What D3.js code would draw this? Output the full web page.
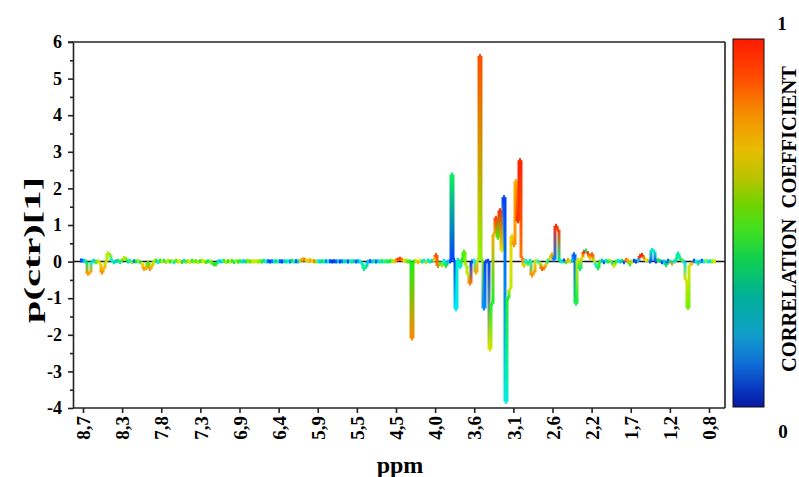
<!DOCTYPE html>
<html><head><meta charset="utf-8">
<script src="https://cdn.jsdelivr.net/npm/d3@7"></script>
<style>
body{margin:0;background:#fff}
svg{display:block}
text{font-family:"Liberation Serif","Times New Roman",serif;font-weight:bold;fill:#000}
</style>
</head><body>
<svg id="c" width="799" height="477"></svg>
<script>
// ---------- data ----------
const ppmTicks = ["8,7","8,3","7,8","7,3","6,9","6,4","5,9","5,5","4,5","4,0","3,6","3,1","2,6","2,2","1,7","1,2","0,8"];
const yTicks = [6,5,4,3,2,1,0,-1,-2,-3,-4];
const yMinorTicks = [5.5,4.5,3.5,2.5,1.5,0.5,-0.5,-1.5,-2.5,-3.5];
const colorbarLabels = ["1","0"];
const yTitle = "p(ctr)[1]";
const xTitle = "ppm";
const cbTitle = "CORRELATION\u00a0\u00a0COEFFICIENT";

// loading p(ctr)[1] per spectral bin (left -> right)
const loadings = [
 0.03,0.03,0.02,0.0,-0.33,-0.3,0.0,0.02,-0.02,0.01,
 -0.05,-0.3,-0.18,0.0,0.23,0.18,0.02,-0.02,0.01,0.02,
 -0.01,0.03,0.1,0.08,0.0,0.02,-0.02,0.01,0.0,0.02,
 -0.02,-0.05,-0.2,-0.18,-0.03,-0.2,-0.12,0.01,0.02,-0.01,
 0.02,0.0,0.02,-0.01,0.02,0.0,0.01,-0.02,0.02,0.0,
 0.01,-0.01,0.02,0.0,0.01,-0.01,0.02,0.0,0.01,-0.01,
 0.01,0.02,0.0,-0.01,0.01,0.0,-0.03,-0.08,-0.07,0.0,
 0.01,0.0,0.02,-0.01,0.01,0.0,0.02,-0.01,0.01,0.0,
 0.01,0.0,0.01,0.0,0.02,0.0,0.01,0.0,0.01,0.0,
 0.01,0.0,0.02,0.0,0.01,0.0,0.01,0.0,0.01,0.0,
 0.01,0.0,0.01,0.0,0.01,0.0,0.02,0.0,0.01,0.0,
 0.02,0.05,0.06,0.04,0.02,0.03,0.02,0.01,0.0,0.01,
 0.0,0.01,0.0,0.01,0.0,0.01,0.0,0.01,0.0,0.01,
 0.0,0.01,0.0,0.01,0.0,0.01,0.0,0.01,0.0,0.01,
 0.0,-0.05,-0.2,-0.15,0.0,0.01,0.0,0.01,0.0,0.01,
 0.0,0.01,0.0,0.01,0.0,0.01,0.02,0.0,0.04,0.06,
 0.08,0.05,0.03,0.02,0.0,0.0,-2.1,0.0,0.02,-0.02,
 0.03,0.0,0.02,-0.02,0.03,0.0,0.02,0.05,0.18,-0.12,
 -0.05,-0.1,0.02,-0.12,0.0,0.0,2.38,0.05,-1.3,0.05,
 -0.15,0.05,0.27,-0.1,-0.35,-0.6,0.0,0.03,-0.3,0.05,
 5.62,0.05,-1.28,0.0,0.02,-2.4,-1.15,0.75,1.2,0.65,
 1.4,0.3,1.76,-3.83,-1.0,-0.75,0.7,0.45,2.2,1.1,
 2.77,0.1,-0.12,0.02,-0.05,0.02,-0.38,-0.3,0.02,0.0,
 -0.05,-0.2,-0.18,-0.08,0.02,0.1,0.2,0.05,0.98,0.87,
 0.02,0.0,0.03,-0.02,0.05,0.0,0.02,0.2,-1.15,0.05,
 -0.2,0.1,0.27,0.3,0.22,0.1,0.2,0.02,-0.1,-0.18,
 0.0,0.03,-0.02,0.02,0.0,0.02,-0.03,-0.12,0.0,0.02,
 0.0,0.02,-0.02,0.05,0.03,-0.08,0.0,0.02,0.0,0.02,
 0.15,0.18,0.1,0.04,0.03,0.0,0.32,0.28,0.0,0.04,
 0.02,-0.02,0.0,-0.1,0.02,0.0,-0.05,0.0,0.05,0.22,
 0.1,0.03,0.0,-0.5,-1.27,-0.1,-0.05,0.02,0.0,-0.05,
 0.0,0.02,0.0,0.02,0.0,0.01,0.0,0.01,0.0
];

// correlation coefficient per bin (0..1)
const correlation = [
 0.12,0.15,0.3,0.45,0.82,0.78,0.4,0.3,0.55,0.62,
 0.7,0.83,0.75,0.65,0.63,0.6,0.35,0.45,0.3,0.5,
 0.38,0.55,0.64,0.6,0.45,0.35,0.6,0.2,0.5,0.65,
 0.45,0.7,0.8,0.78,0.55,0.82,0.75,0.62,0.5,0.35,
 0.52,0.65,0.45,0.6,0.68,0.5,0.62,0.36,0.55,0.66,
 0.7,0.5,0.32,0.55,0.64,0.7,0.48,0.6,0.55,0.66,
 0.5,0.62,0.68,0.55,0.45,0.6,0.55,0.5,0.52,0.4,
 0.3,0.35,0.55,0.62,0.5,0.66,0.55,0.45,0.62,0.5,
 0.55,0.33,0.3,0.5,0.6,0.55,0.64,0.68,0.66,0.6,
 0.58,0.5,0.45,0.35,0.15,0.1,0.2,0.32,0.5,0.35,
 0.15,0.1,0.3,0.45,0.35,0.2,0.5,0.38,0.12,0.3,
 0.6,0.8,0.85,0.75,0.65,0.8,0.7,0.85,0.6,0.35,
 0.3,0.5,0.4,0.2,0.35,0.12,0.08,0.1,0.15,0.3,
 0.1,0.2,0.45,0.3,0.12,0.35,0.5,0.3,0.15,0.25,
 0.35,0.4,0.42,0.45,0.3,0.12,0.3,0.45,0.15,0.3,
 0.4,0.5,0.35,0.55,0.45,0.5,0.6,0.66,0.82,0.92,
 0.95,0.85,0.7,0.6,0.55,0.5,0.83,0.52,0.68,0.78,
 0.7,0.45,0.33,0.62,0.38,0.45,0.3,0.7,0.9,0.85,
 0.55,0.6,0.35,0.5,0.3,0.12,0.47,0.1,0.34,0.4,
 0.35,0.5,0.55,0.62,0.65,0.85,0.12,0.35,0.8,0.62,
 0.9,0.6,0.22,0.12,0.1,0.68,0.5,0.78,0.92,0.55,
 0.96,0.7,0.1,0.37,0.5,0.66,0.72,0.82,0.78,0.95,
 0.97,0.85,0.72,0.35,0.5,0.4,0.82,0.8,0.66,0.35,
 0.6,0.88,0.85,0.75,0.45,0.72,0.78,0.2,0.95,0.93,
 0.45,0.35,0.12,0.55,0.8,0.65,0.3,0.15,0.48,0.68,
 0.45,0.72,0.95,0.45,0.93,0.75,0.9,0.65,0.35,0.48,
 0.55,0.3,0.15,0.35,0.5,0.62,0.45,0.68,0.55,0.35,
 0.3,0.48,0.15,0.85,0.8,0.55,0.65,0.12,0.1,0.3,
 0.95,0.97,0.85,0.7,0.65,0.15,0.4,0.38,0.12,0.5,
 0.45,0.12,0.3,0.48,0.15,0.45,0.82,0.35,0.45,0.42,
 0.4,0.55,0.33,0.68,0.58,0.68,0.75,0.12,0.35,0.45,
 0.3,0.15,0.35,0.65,0.35,0.4,0.6,0.68,0.65
];

// colour map stops
const dataStops  = [0,0.12,0.25,0.35,0.45,0.52,0.62,0.7,0.8,0.9,1];
const dataColors = ["#0010e0","#0048ff","#00a0ff","#00f0f0","#00f080","#20f000","#a8f000","#e8e000","#ffa000","#ff5000","#ff1000"];
const barStops   = [0,0.05,0.12,0.2,0.3,0.4,0.48,0.55,0.62,0.7,0.8,0.9,1];
const barColors  = ["#0818a0","#0838c0","#1070d8","#10a0c8","#00b098","#10d050","#40e020","#70d400","#b8c400","#e8bc00","#f58c00","#ff4800","#ff1a00"];

// ---------- layout ----------
const svg = d3.select("#c");
const L = 73, R = 725, T = 42, B = 408;
const N = loadings.length;

const y = d3.scaleLinear().domain([-4, 6]).range([B, T]);
const xTick = d3.scalePoint().domain(ppmTicks).range([83, 709]);
const xBin = d3.scaleLinear().domain([0, N - 1]).range([80, 716]);
const color = d3.scaleLinear().domain(dataStops).range(dataColors).interpolate(d3.interpolateRgb).clamp(true);

const defs = svg.append("defs");

// zero baseline
svg.append("line").attr("x1", L).attr("x2", R).attr("y1", y(0)).attr("y2", y(0))
  .attr("stroke", "#111").attr("stroke-width", 1.5);

// coloured loading line (step style, colour graded along vertical steps)
const gData = svg.append("g");
for (let i = 0; i < N; i++) {
  const xa = xBin(Math.max(0, i - 0.5)), xb = xBin(Math.min(N - 1, i + 0.5));
  gData.append("line").attr("x1", xa).attr("x2", xb)
    .attr("y1", y(loadings[i])).attr("y2", y(loadings[i]))
    .attr("stroke", color(correlation[i])).attr("stroke-width", 4);
  if (i < N - 1) {
    const xv = xBin(i + 0.5), y1 = y(loadings[i]), y2 = y(loadings[i + 1]);
    if (Math.abs(y2 - y1) > 0.6) {
      const id = "sg" + i;
      const lg = defs.append("linearGradient").attr("id", id)
        .attr("gradientUnits", "userSpaceOnUse")
        .attr("x1", xv).attr("x2", xv).attr("y1", y1).attr("y2", y2);
      lg.append("stop").attr("offset", 0).attr("stop-color", color(correlation[i]));
      lg.append("stop").attr("offset", 1).attr("stop-color", color(correlation[i + 1]));
      gData.append("line").attr("x1", xv).attr("x2", xv).attr("y1", y1).attr("y2", y2)
        .attr("stroke", `url(#${id})`).attr("stroke-width", 3);
    }
  }
}

// frame
svg.append("line").attr("x1", L - 5).attr("x2", R).attr("y1", T).attr("y2", T).attr("stroke", "#222").attr("stroke-width", 1.6);
svg.append("line").attr("x1", R).attr("x2", R).attr("y1", T).attr("y2", B).attr("stroke", "#222").attr("stroke-width", 1.6);

// y axis
const yAxis = svg.append("g").attr("transform", `translate(${L},0)`)
  .call(d3.axisLeft(y).tickValues(yTicks).tickSize(5).tickSizeOuter(0).tickPadding(6).tickFormat(d => d));
yAxis.selectAll("text").style("font-size", "18px").style("font-family", '"Liberation Serif",serif').style("font-weight", "bold");
const yMinor = svg.append("g").attr("transform", `translate(${L},0)`)
  .call(d3.axisLeft(y).tickValues(yMinorTicks).tickSize(3).tickSizeOuter(0).tickFormat(""));
yMinor.select(".domain").remove();
svg.selectAll(".domain, .tick line").attr("stroke", "#222").attr("stroke-width", 1.6);

// x axis
const xAxis = svg.append("g").attr("transform", `translate(0,${B})`)
  .call(d3.axisBottom(xTick).tickSize(5).tickSizeOuter(0));
xAxis.select(".domain").attr("d", `M${L},0H${R}`).attr("stroke", "#222").attr("stroke-width", 1.6);
xAxis.selectAll(".tick line").attr("stroke", "#222").attr("stroke-width", 1.6);
xAxis.selectAll("text")
  .attr("transform", "rotate(-90)").attr("x", -8).attr("y", 0).attr("dy", "0.35em")
  .attr("text-anchor", "end")
  .style("font-size", "19px").style("font-family", '"Liberation Serif",serif').style("font-weight", "bold");

// titles
svg.append("text").attr("x", 400).attr("y", 473).attr("text-anchor", "middle")
  .style("font-size", "24px").text(xTitle);
svg.append("text").attr("transform", "translate(40,250) rotate(-90)").attr("text-anchor", "middle")
  .attr("textLength", 146).attr("lengthAdjust", "spacingAndGlyphs")
  .style("font-size", "24px").text(yTitle);

// colour bar
const cb = defs.append("linearGradient").attr("id", "cbar").attr("x1", 0).attr("x2", 0).attr("y1", 1).attr("y2", 0);
barStops.forEach((s, k) => cb.append("stop").attr("offset", s).attr("stop-color", barColors[k]));
const cbScale = d3.scaleLinear().domain([0, 1]).range([407, 39]);
svg.append("rect").attr("x", 733).attr("y", cbScale(1)).attr("width", 31).attr("height", cbScale(0) - cbScale(1))
  .attr("fill", "url(#cbar)").attr("stroke", "#111").attr("stroke-width", 1);
svg.append("text").attr("x", 782).attr("y", 30).attr("text-anchor", "middle").style("font-size", "19px").text(colorbarLabels[0]);
svg.append("text").attr("x", 783).attr("y", 438).attr("text-anchor", "middle").style("font-size", "19px").text(colorbarLabels[1]);
svg.append("text").attr("transform", "translate(796,219) rotate(-90)").attr("text-anchor", "middle")
  .style("font-size", "20.5px").text(cbTitle);
</script>
</body></html>
